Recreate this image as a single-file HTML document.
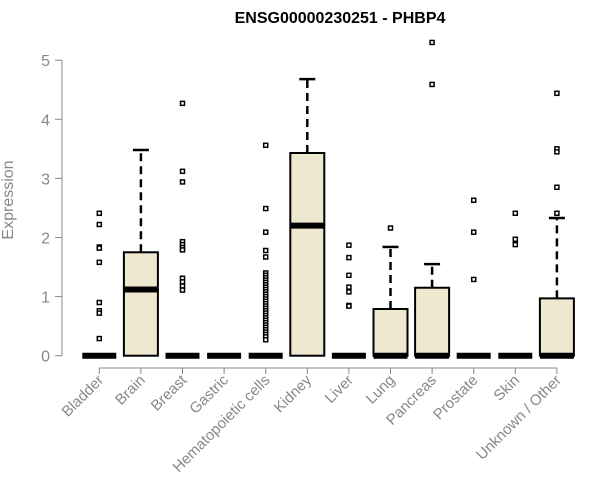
<!DOCTYPE html>
<html><head><meta charset="utf-8"><style>body{margin:0;background:#fff}svg{display:block}</style></head>
<body>
<svg id="chart" width="600" height="500" xmlns="http://www.w3.org/2000/svg" font-family="Liberation Sans, sans-serif">
<text x="340" y="23" text-anchor="middle" font-weight="bold" font-size="16">ENSG00000230251 - PHBP4</text>
<text transform="translate(13,200) rotate(-90)" text-anchor="middle" font-size="16" fill="#888">Expression</text>
<g id="plot"></g>
</svg>
<script>
const categories=["Bladder","Brain","Breast","Gastric","Hematopoietic cells","Kidney","Liver","Lung","Pancreas","Prostate","Skin","Unknown / Other"];
const q1=[0,0,0,0,0,0,0,0,0,0,0,0];
const medians=[0,1.12,0,0,0,2.2,0,0,0,0,0,0];
const q3=[0,1.75,0,0,0,3.43,0,0.79,1.15,0,0,0.97];
const whiskerHigh=[0,3.48,0,0,0,4.68,0,1.84,1.55,0,0,2.33];
const outliers=[
[2.41,2.22,1.84,1.82,1.58,0.9,0.76,0.72,0.29],
[],
[4.27,3.12,2.94,1.93,1.88,1.83,1.79,1.31,1.25,1.18,1.11],
[],
[3.56,2.49,2.09,1.78,1.67,1.4,1.36,1.32,1.28,1.24,1.2,1.16,1.12,1.08,1.04,1.0,0.96,0.92,0.88,0.84,0.8,0.76,0.72,0.68,0.64,0.6,0.56,0.52,0.48,0.44,0.4,0.36,0.32,0.27],
[],
[1.87,1.66,1.36,1.16,1.08,0.85,0.84],
[2.16],
[5.3,4.59],
[2.63,2.09,1.29],
[2.41,1.97,1.88],
[4.44,3.5,3.45,2.85,2.41]];
const yTicks=[0,1,2,3,4,5];
const NS="http://www.w3.org/2000/svg";
const g=document.getElementById('plot');
const X=i=>99.3+41.6*i, Y=v=>355.7-59.1*v;
function mk(t,a,p){const e=document.createElementNS(NS,t);for(const k in a)e.setAttribute(k,a[k]);(p||g).appendChild(e);return e;}
const ya=mk('line',{x1:62,x2:62,y1:Y(0),y2:Y(5),stroke:'#888'});


yTicks.forEach(v=>{
 const t=mk('line',{x1:55,x2:62,y1:Y(v),y2:Y(v),stroke:'#888'});
 
 
 const l=mk('text',{x:50,y:Y(v)+6,'text-anchor':'end','font-size':16,fill:'#888'});
 l.textContent=v;
 
 
});
const xa=mk('line',{x1:X(0),x2:X(11),y1:368,y2:368,stroke:'#888'});


categories.forEach((c,i)=>{
 const x=X(i);
 const t=mk('line',{x1:x,x2:x,y1:368,y2:374,stroke:'#888'});
 
 
 const l=mk('text',{transform:`translate(${x+5},${381}) rotate(-45)`,'text-anchor':'end','font-size':15,fill:'#888'});
 l.textContent=c;
 
 
 const bg=mk('g',{});
 
 
 if(whiskerHigh[i]>q3[i]){
  mk('line',{x1:x,x2:x,y1:Y(q3[i]),y2:Y(whiskerHigh[i]),stroke:'#000','stroke-width':2.5,'stroke-dasharray':'8,5'},bg);
  mk('line',{x1:x-8,x2:x+8,y1:Y(whiskerHigh[i]),y2:Y(whiskerHigh[i]),stroke:'#000','stroke-width':2.5},bg);
 }
 if(q3[i]>q1[i]) mk('rect',{x:x-17,y:Y(q3[i]),width:34,height:Y(q1[i])-Y(q3[i]),fill:'#ede8cf',stroke:'#000','stroke-width':2},bg);
 mk('line',{x1:x-17,x2:x+17,y1:Y(medians[i]),y2:Y(medians[i]),stroke:'#000','stroke-width':6},bg);
 outliers[i].forEach(v=>{
  const p=mk('rect',{x:x-2,y:Y(v)-2,width:4,height:4,fill:'#fff',stroke:'#000','stroke-width':1.5},bg);
  
  
 });
});
</script>
</body></html>
